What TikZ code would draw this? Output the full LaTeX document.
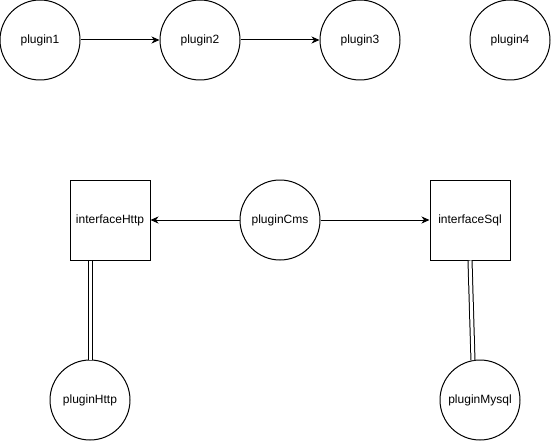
\documentclass[tikz,border=0pt]{standalone}
\usepackage{fontspec}
\setmainfont{Liberation Sans}
\usetikzlibrary{arrows.meta}
\begin{document}
\begin{tikzpicture}[x=1pt,y=-1pt,
  plug/.style={circle,draw=black,line width=1pt,minimum size=80pt,inner sep=0pt,font=\fontsize{12}{14}\selectfont},
  iface/.style={rectangle,draw=black,line width=1pt,minimum size=80pt,inner sep=0pt,font=\fontsize{12}{14}\selectfont},
  arr/.style={line width=1pt,-{Classic TikZ Rightarrow[length=6pt,width=7pt]}},
  arrf/.style={line width=1pt,-{Stealth[length=8pt,width=7pt,inset=2.5pt]}},
  dbl/.style={line width=1pt,double=white,double distance=3pt,draw=black}]
\useasboundingbox[fill=white] (0,0) rectangle (551,441);
\node[plug] (p1) at (40,40) {plugin1};
\node[plug] (p2) at (200,40) {plugin2};
\node[plug] (p3) at (360,40) {plugin3};
\node[plug] (p4) at (510,40) {plugin4};
\node[iface] (ihttp) at (110,220) {interfaceHttp};
\node[plug] (pcms) at (280,220) {pluginCms};
\node[iface] (isql) at (470,220) {interfaceSql};
\node[plug] (phttp) at (90,400) {pluginHttp};
\node[plug] (pmysql) at (480,400) {pluginMysql};
\draw[arrf] (p1) -- (p2);
\draw[arrf] (p2) -- (p3);
\draw[arrf] (pcms) -- (ihttp);
\draw[arrf] (pcms) -- (isql);
\coordinate (hs) at ([xshift=-20pt]ihttp.south);
\draw[dbl] (hs) -- (phttp.north);
\draw[dbl] (isql.south) -- (pmysql.100);
\end{tikzpicture}
\end{document}
